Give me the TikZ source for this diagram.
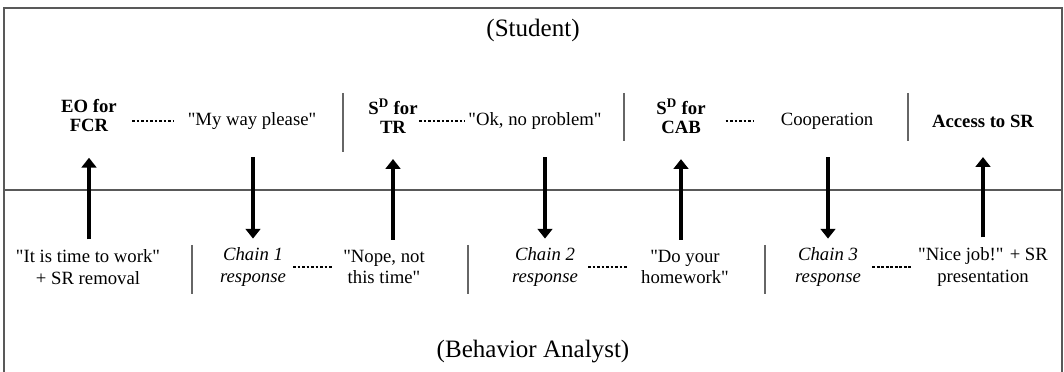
\documentclass[tikz,border=0pt]{standalone}
\usepackage{fontspec}
\setmainfont{Liberation Serif}
\usetikzlibrary{arrows.meta}
\newcommand{\dq}{\textquotedbl}
\tikzset{
	>={Triangle[length=7pt,width=10.5pt]},
	term/.style={
		inner sep=0pt,
		align=center,
		font=\fontsize{13.3}{15.5}\selectfont},
	termbold/.style={term, font=\fontsize{13.3}{13.5}\selectfont\bfseries},
	response/.style={term, font=\fontsize{13.3}{15.5}\selectfont\itshape},
	side/.style={inner sep=0pt, font=\fontsize{17.8}{20}\selectfont},
	frame/.style={draw=black!65, line width=1.3pt},
	splitter/.style={draw=black!60, line width=1pt},
	upstep/.style={->, line width=2.6pt, shorten <=7pt, shorten >=18pt},
	downstep/.style={->, line width=2.6pt, shorten <=19.6pt, shorten >=6.2pt},
	dashlink/.style={draw, line width=0.9pt, dash pattern=on 1.9pt off 1.3pt},
}

\begin{document}
\begin{tikzpicture}[x=0.025cm, y=-0.025cm]
	\useasboundingbox (0,0) rectangle (1064,372);
	% frame and the line between the two parties
	\draw[frame] (4,372) -- (4,8) -- (1062,8) -- (1062,372);
	\draw[frame] (4,190) -- (1062,190);
	\node[side] (student) at (533,30) {(Student)};
	\node[side] (analyst) at (533,352) {(Behavior Analyst)};

	% student row
	\node[termbold] (eo) at (89,116) {EO for\\FCR};
	\node[term] (myway) at (252,121) {\dq My way please\dq};
	\node[termbold] (sdtr) at (393,116) {S\textsuperscript{D} for\\TR};
	\node[term] (ok) at (535,121) {\dq Ok, no problem\dq};
	\node[termbold] (sdcab) at (681,116) {S\textsuperscript{D} for\\CAB};
	\node[term] (coop) at (827,121) {Cooperation};
	\node[termbold] (access) at (983,121) {Access to SR};
	\draw[splitter] (343,93) -- (343,152);
	\draw[splitter] (624,93) -- (624,141);
	\draw[splitter] (908,93) -- (908,141);

	% analyst row
	\node[term] (time) at (88,267) {\dq It is time to work\dq\\+ SR removal};
	\node[response] (chain1) at (253,267) {Chain 1\\response};
	\node[term] (nope) at (384,267) {\dq Nope, not\\this time\dq};
	\node[response] (chain2) at (545,267) {Chain 2\\response};
	\node[term] (homework) at (685,267) {\dq Do your\\homework\dq};
	\node[response] (chain3) at (828,267) {Chain 3\\response};
	\node[term] (nice) at (983,267) {\dq Nice job!\dq{} + SR\\presentation};
	\draw[splitter] (192,245) -- (192,294);
	\draw[splitter] (468,245) -- (468,294);
	\draw[splitter] (765,245) -- (765,294);

	% dotted links inside each link
	\draw[dashlink, shorten <=10.8pt, shorten >=10pt] (eo.east |- myway) -- (myway.west);
	\draw[dashlink, shorten <=1pt, shorten >=2pt] (sdtr.east |- ok) -- (ok.west);
	\draw[dashlink, shorten <=14pt, shorten >=18.5pt] (sdcab.east |- coop) -- (coop.west);
	\draw[dashlink, shorten <=5pt, shorten >=8pt] (chain1.east) -- (nope.west);
	\draw[dashlink, shorten <=7pt, shorten >=10pt] (chain2.east) -- (homework.west);
	\draw[dashlink, shorten <=8pt, shorten >=4pt] (chain3.east) -- (nice.west);

	% arrows across the two rows
	\draw[upstep] (eo.south |- time.north) -- (eo.south);
	\draw[downstep] (chain1.north |- myway.south) -- (chain1.north);
	\draw[upstep] (sdtr.south |- nope.north) -- (sdtr.south);
	\draw[downstep] (chain2.north |- ok.south) -- (chain2.north);
	\draw[upstep] (sdcab.south |- homework.north) -- (sdcab.south);
	\draw[downstep] (chain3.north |- coop.south) -- (chain3.north);
	\draw[upstep, shorten >=21pt] (access.south |- nice.north) -- (access.south);
\end{tikzpicture}
\end{document}
